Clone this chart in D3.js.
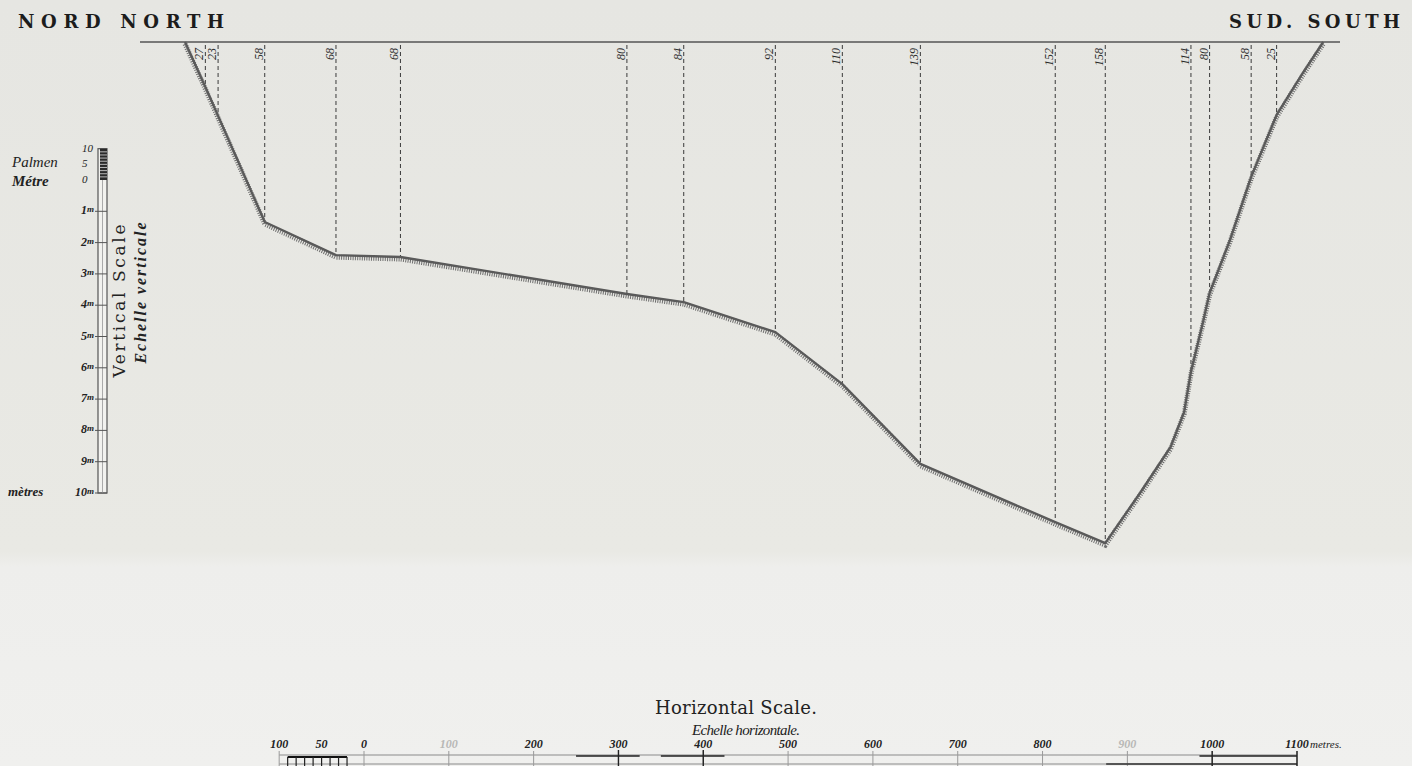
<!DOCTYPE html>
<html>
<head>
<meta charset="utf-8">
<script src="https://cdn.jsdelivr.net/npm/d3@7"></script>
<style>
  html, body { margin: 0; padding: 0; background: #e8e8e4; }
  svg { display: block; }
</style>
</head>
<body>
<div id="chart"></div>
<script>
// section profile: distance from the north bank (m) and depth (m)
const profileDist  = [0, 24, 39, 94, 178, 254, 521, 588, 696, 775, 867, 1026, 1085, 1126, 1162, 1178, 1186, 1200, 1208, 1232, 1257, 1287, 1318, 1342];
const profileDepth = [0, 1.44, 2.36, 5.75, 6.81, 6.87, 8.05, 8.31, 9.27, 10.93, 13.48, 15.34, 16.01, 14.41, 12.94, 11.82, 10.54, 8.98, 8.02, 6.33, 4.31, 2.33, 0.99, 0];
// soundings written along the top (palmen), empty where there is none
const soundingLabel = ["", "27", "23", "58", "68", "68", "80", "84", "92", "110", "139", "152", "158", "", "", "", "114", "", "80", "", "58", "25", "", ""];

// vertical scale
const rulerMetres = [1, 2, 3, 4, 5, 6, 7, 8, 9, 10];
const palmTicks = [0, 1, 2, 3, 4, 5, 6, 7, 8, 9, 10];
const palmLabels = [10, 5, 0];

// horizontal scale
const hTicks = [-100, 0, 100, 200, 300, 400, 500, 600, 700, 800, 900, 1000, 1100];
const hLabelValues = [-100, -50, 0, 100, 200, 300, 400, 500, 600, 700, 800, 900, 1000, 1100];
const hLabelText = ["100", "50", "0", "100", "200", "300", "400", "500", "600", "700", "800", "900", "1000", "1100"];
const hFaint = [100, 900];
const hSubTicks = [-90, -80, -70, -60, -50, -40, -30, -20];

const width = 1412;
const height = 766;

const svg = d3.select('#chart')
  .append('svg')
  .attr('width', width)
  .attr('height', height);

// paper
const defs = svg.append('defs');
const grad = defs.append('linearGradient')
  .attr('id', 'paper')
  .attr('x1', 0).attr('y1', 0).attr('x2', 0).attr('y2', 1);
grad.append('stop').attr('offset', '0').attr('stop-color', '#e6e6e2');
grad.append('stop').attr('offset', '0.72').attr('stop-color', '#e9e9e4');
grad.append('stop').attr('offset', '0.74').attr('stop-color', '#eeeeec');
grad.append('stop').attr('offset', '1').attr('stop-color', '#f0f0ee');
svg.append('rect')
  .attr('width', width)
  .attr('height', height)
  .attr('fill', 'url(#paper)');

// scales: same metre length horizontally for the profile and the ruler
const xs = d3.scaleLinear().domain([0, 1100]).range([364, 1297]);
const pxPerM = (xs(1100) - xs(0)) / 1100;
const xProfile = d3.scaleLinear().domain([0, 1000]).range([185, 185 + 1000 * pxPerM]);
const yDepth = d3.scaleLinear().domain([0, 10]).range([42, 355]);
const yRuler = d3.scaleLinear().domain([0, 10]).range([180, 493]);

// headings
const heading = svg.append('g')
  .attr('font-family', 'DejaVu Serif, serif')
  .attr('font-weight', 'bold')
  .attr('font-size', 18)
  .attr('fill', '#1c1c1c');
heading.append('text').attr('x', 18).attr('y', 28)
  .attr('textLength', 206).attr('lengthAdjust', 'spacing')
  .text('NORD NORTH');
heading.append('text').attr('x', 1229).attr('y', 28)
  .attr('textLength', 171).attr('lengthAdjust', 'spacing')
  .text('SUD. SOUTH');

// water surface
svg.append('line')
  .attr('x1', 140).attr('x2', 1340)
  .attr('y1', yDepth(0)).attr('y2', yDepth(0))
  .attr('stroke', '#555')
  .attr('stroke-width', 1.6);

const points = profileDist.map((d, i) => [xProfile(d), yDepth(profileDepth[i])]);

// sounding lines
const soundings = points
  .map((p, i) => ({ x: p[0], y: p[1], label: soundingLabel[i] }))
  .filter(s => s.label !== '');

svg.selectAll('.sounding')
  .data(soundings)
  .enter()
  .append('line')
  .attr('class', 'sounding')
  .attr('x1', d => d.x).attr('x2', d => d.x)
  .attr('y1', yDepth(0) + 3).attr('y2', d => d.y)
  .attr('stroke', '#3a3a3a')
  .attr('stroke-width', 1)
  .attr('stroke-dasharray', '4 3');

svg.selectAll('.sounding-label')
  .data(soundings)
  .enter()
  .append('text')
  .attr('class', 'sounding-label')
  .attr('transform', d => `translate(${d.x - 2}, ${yDepth(0) + 6}) rotate(-90)`)
  .attr('text-anchor', 'end')
  .attr('font-family', 'Liberation Serif, serif')
  .attr('font-style', 'italic')
  .attr('font-size', 12)
  .attr('fill', '#2a2a2a')
  .text(d => d.label);

// river bed with its hatching
const line = d3.line();
svg.append('path')
  .attr('d', line(points))
  .attr('fill', 'none')
  .attr('stroke', '#6e6e6e')
  .attr('stroke-width', 5)
  .attr('stroke-dasharray', '1 1.3')
  .attr('transform', 'translate(0, 2)');
svg.append('path')
  .attr('d', line(points))
  .attr('fill', 'none')
  .attr('stroke', '#5a5a5a')
  .attr('stroke-width', 2.4)
  .attr('stroke-linejoin', 'round');

// vertical scale
const vs = svg.append('g');
const palmY = d3.scaleLinear().domain([0, 10]).range([yRuler(0), yRuler(-1)]);

vs.append('rect')
  .attr('x', 98).attr('y', palmY(10))
  .attr('width', 9).attr('height', yRuler(10) - palmY(10))
  .attr('fill', '#f2f2ef')
  .attr('stroke', '#555')
  .attr('stroke-width', 1.2);
vs.append('line')
  .attr('x1', 102.5).attr('x2', 102.5)
  .attr('y1', yRuler(0)).attr('y2', yRuler(10))
  .attr('stroke', '#aaa').attr('stroke-width', 1);
vs.append('rect')
  .attr('x', 100).attr('y', palmY(10))
  .attr('width', 7).attr('height', palmY(0) - palmY(10))
  .attr('fill', '#2a2a2a');
vs.selectAll('.palm')
  .data(palmTicks.slice(1, -1))
  .enter()
  .append('line')
  .attr('x1', 100).attr('x2', 107)
  .attr('y1', d => palmY(d)).attr('y2', d => palmY(d))
  .attr('stroke', '#ddd').attr('stroke-width', 0.8);

vs.selectAll('.palm-label')
  .data(palmLabels)
  .enter()
  .append('text')
  .attr('x', 82).attr('y', d => palmY(d) + 3)
  .attr('font-family', 'Liberation Serif, serif')
  .attr('font-style', 'italic')
  .attr('font-size', 11)
  .attr('fill', '#222')
  .text(d => d);

vs.append('text').attr('x', 12).attr('y', 167)
  .attr('font-family', 'Liberation Serif, serif')
  .attr('font-style', 'italic').attr('font-size', 15).attr('fill', '#222')
  .text('Palmen');
vs.append('text').attr('x', 12).attr('y', 186)
  .attr('font-family', 'Liberation Serif, serif')
  .attr('font-style', 'italic').attr('font-weight', 'bold').attr('font-size', 15).attr('fill', '#222')
  .text('Métre');

vs.selectAll('.metre-tick')
  .data(rulerMetres)
  .enter()
  .append('line')
  .attr('x1', 95).attr('x2', 107)
  .attr('y1', d => yRuler(d)).attr('y2', d => yRuler(d))
  .attr('stroke', '#555').attr('stroke-width', 1);

const metreLabels = vs.selectAll('.metre-label')
  .data(rulerMetres)
  .enter()
  .append('text')
  .attr('x', 94).attr('y', d => yRuler(d) + 3)
  .attr('text-anchor', 'end')
  .attr('font-family', 'Liberation Serif, serif')
  .attr('font-style', 'italic')
  .attr('font-weight', 'bold')
  .attr('font-size', 12)
  .attr('fill', '#222');
metreLabels.append('tspan').text(d => d);
metreLabels.append('tspan').attr('font-size', 9).attr('dy', -2).text('m');

vs.append('text').attr('x', 8).attr('y', yRuler(10) + 3)
  .attr('font-family', 'Liberation Serif, serif')
  .attr('font-style', 'italic').attr('font-weight', 'bold').attr('font-size', 13).attr('fill', '#222')
  .text('mètres');

vs.append('text')
  .attr('transform', 'translate(125, 301) rotate(-90)')
  .attr('text-anchor', 'middle')
  .attr('font-family', 'DejaVu Serif, serif')
  .attr('font-size', 17)
  .attr('fill', '#222')
  .attr('textLength', 153).attr('lengthAdjust', 'spacing')
  .text('Vertical Scale');
vs.append('text')
  .attr('transform', 'translate(146, 293) rotate(-90)')
  .attr('text-anchor', 'middle')
  .attr('font-family', 'Liberation Serif, serif')
  .attr('font-style', 'italic')
  .attr('font-weight', 'bold')
  .attr('font-size', 16)
  .attr('fill', '#222')
  .attr('textLength', 141).attr('lengthAdjust', 'spacing')
  .text('Echelle verticale');

// horizontal scale
const hs = svg.append('g');
hs.append('text').attr('x', 736).attr('y', 714)
  .attr('text-anchor', 'middle')
  .attr('font-family', 'DejaVu Serif, serif')
  .attr('font-size', 18).attr('fill', '#222')
  .attr('textLength', 162).attr('lengthAdjust', 'spacing')
  .text('Horizontal Scale.');
hs.append('text').attr('x', 746).attr('y', 735)
  .attr('text-anchor', 'middle')
  .attr('font-family', 'Liberation Serif, serif')
  .attr('font-style', 'italic').attr('font-size', 15).attr('fill', '#222')
  .attr('textLength', 108).attr('lengthAdjust', 'spacing')
  .text('Echelle horizontale.');

hs.selectAll('.h-label')
  .data(hLabelValues)
  .enter()
  .append('text')
  .attr('x', d => xs(d))
  .attr('y', 748)
  .attr('text-anchor', 'middle')
  .attr('font-family', 'Liberation Serif, serif')
  .attr('font-style', 'italic')
  .attr('font-weight', 'bold')
  .attr('font-size', 12)
  .attr('fill', d => hFaint.includes(d) ? '#b8b8b6' : '#222')
  .text((d, i) => hLabelText[i]);
hs.append('text').attr('x', xs(1100) + 13).attr('y', 748)
  .attr('font-family', 'Liberation Serif, serif')
  .attr('font-style', 'italic').attr('font-size', 11).attr('fill', '#222')
  .text('metres.');

[755, 764].forEach(y => {
  hs.append('line')
    .attr('x1', xs(-100)).attr('x2', xs(1100))
    .attr('y1', y).attr('y2', y)
    .attr('stroke', '#8a8a8a').attr('stroke-width', 1);
});
hs.selectAll('.h-tick')
  .data(hTicks)
  .enter()
  .append('line')
  .attr('x1', d => xs(d)).attr('x2', d => xs(d))
  .attr('y1', 751).attr('y2', 766)
  .attr('stroke', '#9a9a9a').attr('stroke-width', 1);

// fine subdivision box left of zero
hs.append('line')
  .attr('x1', xs(-90)).attr('x2', xs(-20))
  .attr('y1', 757).attr('y2', 757)
  .attr('stroke', '#111').attr('stroke-width', 2);
hs.selectAll('.h-sub')
  .data(hSubTicks)
  .enter()
  .append('line')
  .attr('x1', d => xs(d)).attr('x2', d => xs(d))
  .attr('y1', 757).attr('y2', 766)
  .attr('stroke', '#222').attr('stroke-width', 1.2);

// bold crosses at 300 and 400
[300, 400].forEach(v => {
  hs.append('line')
    .attr('x1', xs(v - 50)).attr('x2', xs(v + 25))
    .attr('y1', 756).attr('y2', 756)
    .attr('stroke', '#222').attr('stroke-width', 1.4);
  hs.append('line')
    .attr('x1', xs(v)).attr('x2', xs(v))
    .attr('y1', 750).attr('y2', 766)
    .attr('stroke', '#222').attr('stroke-width', 1.4);
});

// bracket 1000 - 1100
hs.append('line')
  .attr('x1', xs(985)).attr('x2', xs(1100))
  .attr('y1', 756).attr('y2', 756)
  .attr('stroke', '#222').attr('stroke-width', 1.4);
hs.append('line')
  .attr('x1', xs(875)).attr('x2', xs(1100))
  .attr('y1', 764).attr('y2', 764)
  .attr('stroke', '#333').attr('stroke-width', 1.4);
[1000, 1100].forEach(v => {
  hs.append('line')
    .attr('x1', xs(v)).attr('x2', xs(v))
    .attr('y1', 751).attr('y2', 766)
    .attr('stroke', '#222').attr('stroke-width', 1.4);
});
</script>
</body>
</html>
